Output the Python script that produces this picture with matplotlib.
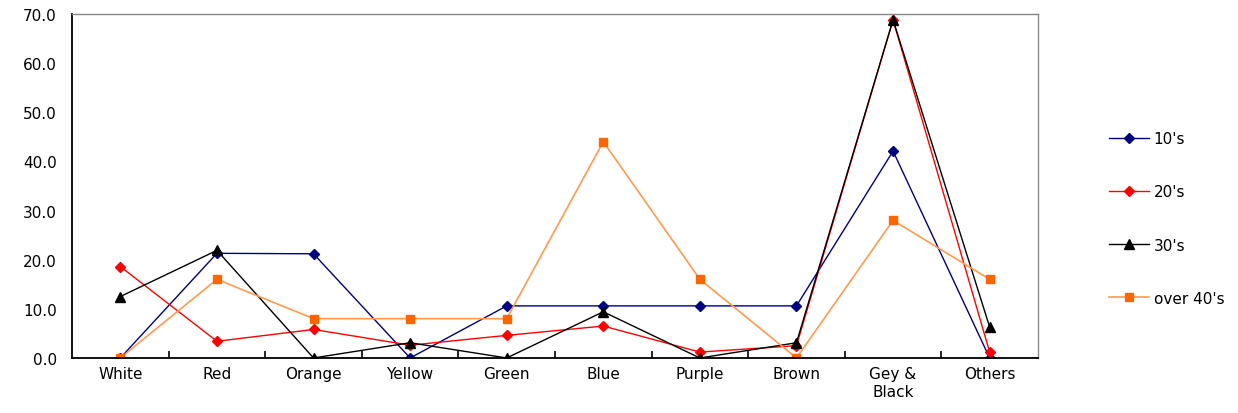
import numpy as np
import matplotlib
matplotlib.use("Agg")
import matplotlib.pyplot as plt

# categories and series (percent)
colors_cat = ["White", "Red", "Orange", "Yellow", "Green", "Blue",
              "Purple", "Brown", "Gey &\nBlack", "Others"]
s10 = [0.0, 21.3, 21.2, 0.0, 10.6, 10.6, 10.6, 10.6, 42.1, 0.0]
s20 = [18.6, 3.4, 5.8, 2.6, 4.6, 6.5, 1.2, 2.5, 68.8, 1.2]
s30 = [12.5, 21.9, 0.0, 3.1, 0.0, 9.4, 0.0, 3.1, 68.8, 6.3]
s40 = [0.0, 16.0, 8.0, 8.0, 8.0, 44.0, 16.0, 0.0, 28.0, 16.0]
labels = ["10's", "20's", "30's", "over 40's"]

plt.rcParams['font.family'] = ['DejaVu Sans']

fig = plt.figure(figsize=(12.38, 4.14), dpi=100)
ax = fig.add_axes([0.0582, 0.1329, 0.7802, 0.8309])

x = np.arange(len(colors_cat))
ax.plot(x, s10, color='#000080', lw=1.0, marker='D', ms=5.5, label=labels[0])
ax.plot(x, s20, color='#FF0000', lw=1.0, marker='D', ms=5.5, label=labels[1])
ax.plot(x, s30, color='#000000', lw=1.0, marker='^', ms=7, label=labels[2])
ax.plot(x, s40, color='#FF9A50', lw=1.2, marker='s', ms=5.5,
        mfc='#FF6600', mec='#FF6600', label=labels[3])

ax.set_xlim(-0.5, len(colors_cat) - 0.5)
ax.set_ylim(0, 70)
ax.set_yticks(np.arange(0, 71, 10))
ax.set_yticklabels(["%.1f" % v for v in np.arange(0, 71, 10)])
ax.set_xticks(x)
ax.set_xticklabels(colors_cat)
ax.set_xticks(np.arange(0.5, len(colors_cat) - 0.5, 1), minor=True)
ax.tick_params(axis='x', which='major', length=0, pad=6, labelsize=11)
ax.tick_params(axis='x', which='minor', direction='in', length=5, width=1.2)
ax.tick_params(axis='y', length=0, pad=11, labelsize=11)

for s in ['top', 'right']:
    ax.spines[s].set_color('#888888')
    ax.spines[s].set_linewidth(1.0)
for s in ['left', 'bottom']:
    ax.spines[s].set_color('black')
    ax.spines[s].set_linewidth(1.3)

leg = fig.legend(loc='center left', bbox_to_anchor=(0.885, 0.47),
                 frameon=False, fontsize=11, handlelength=2.6,
                 handletextpad=0.3, labelspacing=2.5)

fig.savefig("out.png", dpi=100)
